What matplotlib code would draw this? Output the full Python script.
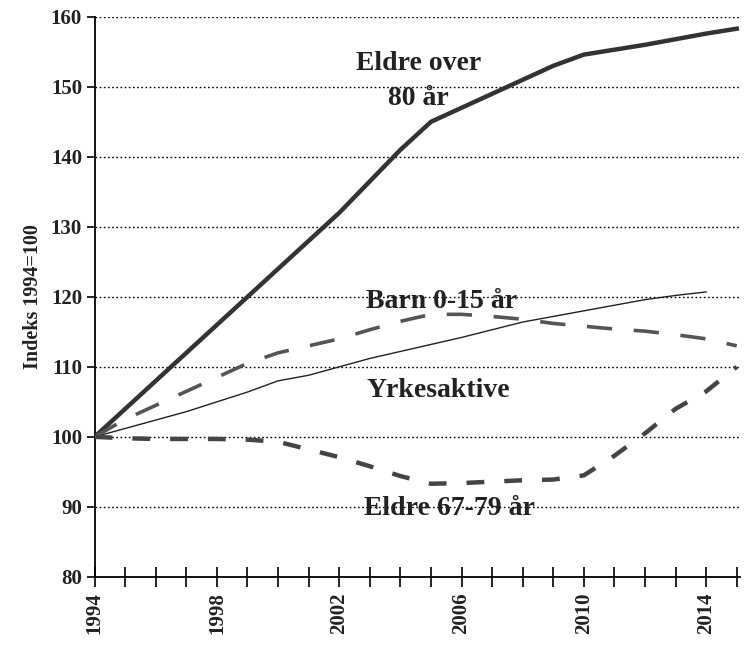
import matplotlib.pyplot as plt
from matplotlib.ticker import MultipleLocator, FixedLocator

plt.rcParams['font.family'] = ['Liberation Serif', 'DejaVu Serif']
plt.rcParams['font.weight'] = 'bold'

years = list(range(1994, 2016))
eldre_over_80 = [100, 104, 108, 112, 116, 120, 124, 128, 132, 136.5, 141, 145,
                 147, 149, 151, 153, 154.6, 155.3, 156, 156.8, 157.6, 158.3]
yrkesaktive = [100, 101.2, 102.4, 103.6, 105, 106.4, 108, 108.8, 110, 111.2, 112.2,
               113.2, 114.2, 115.3, 116.4, 117.2, 118, 118.8, 119.6, 120.2, 120.7]
barn = [100, 102.5, 104.5, 106.5, 108.5, 110.5, 112, 113, 114, 115.3, 116.5, 117.5,
        117.5, 117.2, 116.8, 116.2, 115.8, 115.4, 115.1, 114.6, 114, 113]
eldre_67_79 = [100, 99.8, 99.7, 99.7, 99.7, 99.6, 99.3, 98.2, 97.1, 95.8, 94.4, 93.3,
               93.4, 93.6, 93.8, 93.9, 94.5, 97.3, 100.5, 104, 106.5, 110]

fig = plt.figure(figsize=(7.45, 6.46), dpi=100)
ax = fig.add_axes([0.127, 0.107, 0.866, 0.867])

# dotted grid
for v in range(90, 161, 10):
    ax.axhline(v, color='black', linestyle=(0, (1.2, 1.8)), linewidth=1.0, zorder=1)

ax.plot(years, eldre_over_80, color='#333333', linewidth=3.2, zorder=3)
ax.plot(years[:len(yrkesaktive)], yrkesaktive, color='#222222', linewidth=1.0, zorder=3)
ax.plot(years, barn, color='#555555', linewidth=2.6, linestyle=(0, (7, 6)), zorder=3)
ax.plot(years, eldre_67_79, color='#444444', linewidth=3.2, linestyle=(0, (4, 4.5)), zorder=3)

ax.set_xlim(1994, 2015.1)
ax.set_ylim(80, 160)
ax.spines['top'].set_visible(False)
ax.spines['right'].set_visible(False)
ax.spines['left'].set_linewidth(1.3)
ax.spines['bottom'].set_linewidth(1.3)

ax.xaxis.set_major_locator(FixedLocator([1994, 1998, 2002, 2006, 2010, 2014]))
ax.xaxis.set_minor_locator(MultipleLocator(1))
ax.yaxis.set_major_locator(MultipleLocator(10))
ax.tick_params(axis='x', which='both', direction='inout', length=14, width=1.2,
               labelsize=15, labelrotation=90, pad=4)
ax.tick_params(axis='y', which='both', direction='out', length=6, width=1.2,
               labelsize=15, pad=3)
for lbl in ax.get_xticklabels() + ax.get_yticklabels():
    lbl.set_fontweight('bold')
    lbl.set_color('#222222')

ax.set_ylabel('Indeks 1994=100', fontsize=14.5, fontweight='bold', color='#222222', labelpad=6)

txt = dict(fontsize=20, fontweight='bold', color='#222222', ha='center', va='center', zorder=4)
ax.text(2004.6, 153.4, 'Eldre over', **txt)
ax.text(2004.6, 148.4, '80 år', **txt)
ax.text(2005.35, 119.4, 'Barn 0-15 år', **txt)
ax.text(2005.25, 106.6, 'Yrkesaktive', **txt)
ax.text(2005.6, 89.7, 'Eldre 67-79 år', **txt)

fig.savefig('out.png', dpi=100)
